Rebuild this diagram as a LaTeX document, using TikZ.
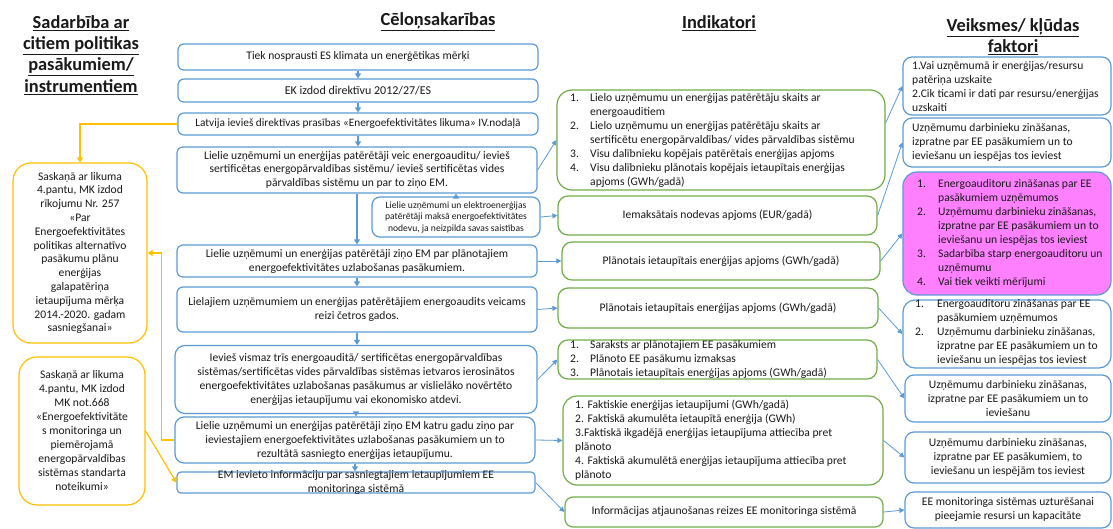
\documentclass[tikz,border=0pt]{standalone}
\usepackage{fontspec}
\setmainfont{Carlito}
\usetikzlibrary{arrows.meta,calc}
\definecolor{cblue}{RGB}{91,155,213}
\definecolor{cgreen}{RGB}{112,173,71}
\definecolor{corange}{RGB}{255,192,0}
\definecolor{cpink}{RGB}{255,128,255}
\definecolor{ctext}{RGB}{25,25,25}
% underlined heading line with a heavier rule
\newcommand\headline[1]{\leavevmode\vtop{\hbox{#1}\kern1.4pt\hrule height 1.2pt}}
% fixed-width list number
\newcommand\numlab[2]{\makebox[#1][l]{#2}}
\begin{document}
\begin{tikzpicture}[x=1pt,y=-1pt,font=\fontsize{11.6}{14}\selectfont,text=ctext,
  cbox/.style={draw=cblue,line width=1.2pt,rounded corners=6pt,align=center,inner sep=1pt},
  gbox/.style={draw=cgreen,line width=1.2pt,rounded corners=10pt,align=center,inner sep=1pt},
  rbox/.style={draw=cblue,line width=1.2pt,rounded corners=9pt,align=center,inner sep=1pt},
  obox/.style={draw=corange,line width=1.2pt,rounded corners=18pt,align=center,inner sep=1pt},
  sz/.style 2 args={minimum width=#1pt,minimum height=#2pt},
  lefttext/.style={anchor=west,align=left,inner sep=0pt},
  head/.style={font=\bfseries\fontsize{18.4}{21.3}\selectfont,align=center,inner sep=0pt},
  arr/.style={draw=cblue,line width=1.3pt,-{Triangle[width=6pt,length=5pt]}},
  thinarr/.style={draw=cblue,line width=0.8pt,-{Triangle[width=5pt,length=5pt]}},
  oarr/.style={draw=corange,line width=1.2pt,-{Triangle[width=6pt,length=5pt]}}]
\fill[white] (0,0) rectangle (1113,529);
\useasboundingbox (0,0) rectangle (1113,529);

% column headings
\node[head] (h1) at (81,55) {\headline{Sadarbība ar}\\ \headline{citiem politikas}\\ \headline{pasākumiem/}\\ \headline{instrumentiem}};
\node[head] (h2) at (438,22) {\headline{Cēloņsakarības}};
\node[head] (h3) at (719,23) {\headline{Indikatori}};
\node[head] (h4) at (1013,37) {\headline{Veiksmes/ kļūdas}\\ \headline{faktori}};

% cause-and-effect chain
\node[cbox,sz={360}{26}] (B1) at (358,57) {Tiek nosprausti ES klimata un enerģētikas mērķi};
\node[cbox,sz={360}{23},font=\fontsize{12}{14}\selectfont] (B2) at (358,90.5) {EK izdod direktīvu 2012/27/ES};
\node[cbox,sz={360}{22},font=\fontsize{11.3}{14}\selectfont] (B3) at (358,124) {Latvija ievieš direktīvas prasības «Energoefektivitātes likuma» IV.nodaļā};
\node[cbox,sz={360}{46},font=\fontsize{11.6}{13.6}\selectfont] (B4) at (357,170) {Lielie uzņēmumi un enerģijas patērētāji veic energoauditu/ ievieš\\ sertificētas energopārvaldības sistēmu/ ievieš sertificētas vides\\ pārvaldības sistēmu un par to ziņo EM.};
\node[cbox,sz={168}{40},rounded corners=8pt,font=\fontsize{9.6}{11.5}\selectfont] (SB) at (456,217) {Lielie uzņēmumi un elektroenerģijas\\ patērētāji maksā energoefektivitātes\\ nodevu, ja neizpilda savas saistības};
\node[cbox,sz={360}{32}] (B5) at (357,261) {Lielie uzņēmumi un enerģijas patērētāji ziņo EM par plānotajiem\\ energoefektivitātes uzlabošanas pasākumiem.};
\node[cbox,sz={360}{45}] (B6) at (357,309.5) {Lielajiem uzņēmumiem un enerģijas patērētājiem energoaudits veicams\\ reizi četros gados.};
\node[cbox,sz={362}{68},rounded corners=10pt] (B7) at (356,379.5) {Ievieš vismaz trīs energoauditā/ sertificētas energopārvaldības\\ sistēmas/sertificētas vides pārvaldības sistēmas ietvaros ierosinātos\\ energoefektivitātes uzlabošanas pasākumus ar vislielāko novērtēto\\ enerģijas ietaupījumu vai ekonomisko atdevi.};
\node[cbox,sz={360}{46},rounded corners=9pt] (B8) at (355,440) {Lielie uzņēmumi un enerģijas patērētāji ziņo EM katru gadu ziņo par\\ ieviestajiem energoefektivitātes uzlabošanas pasākumiem un to\\ rezultātā sasniegto enerģijas ietaupījumu.};
\node[cbox,sz={358}{21},rounded corners=4pt] (B9) at (356,482.5) {};
\node[align=center,inner sep=0pt] (B9t) at (B9.center) {EM ievieto informāciju par sasniegtajiem ietaupījumiem EE\\ monitoringa sistēmā};

% indicators
\node[gbox,sz={328}{100},rounded corners=15pt] (G1) at (721,140) {};
\node[lefttext] (G1t) at (570,140) {\numlab{20pt}{1.}Lielo uzņēmumu un enerģijas patērētāju skaits ar\\ \hspace*{20pt}energoauditiem\\ \numlab{20pt}{2.}Lielo uzņēmumu un enerģijas patērētāju skaits ar\\ \hspace*{20pt}sertificētu energopārvaldības/ vides pārvaldības sistēmu\\ \numlab{20pt}{3.}Visu dalībnieku kopējais patērētais enerģijas apjoms\\ \numlab{20pt}{4.}Visu dalībnieku plānotais kopējais ietaupītais enerģijas\\ \hspace*{20pt}apjoms (GWh/gadā)};
\node[gbox,sz={319}{39}] (G2) at (717.5,215.5) {Iemaksātais nodevas apjoms (EUR/gadā)};
\node[gbox,sz={318}{38}] (G3) at (721,261) {Plānotais ietaupītais enerģijas apjoms (GWh/gadā)};
\node[gbox,sz={320}{40}] (G4) at (718,308) {Plānotais ietaupītais enerģijas apjoms (GWh/gadā)};
\node[gbox,sz={319}{39}] (G5) at (717.5,359.5) {};
\node[lefttext] (G5t) at (570,359) {\numlab{20pt}{1.}Saraksts ar plānotajiem EE pasākumiem\\ \numlab{20pt}{2.}Plānoto EE pasākumu izmaksas\\ \numlab{20pt}{3.}Plānotais ietaupītais enerģijas apjoms (GWh/gadā)};
\node[gbox,sz={320}{89},rounded corners=14pt] (G6) at (723,440.5) {};
\node[lefttext] (G6t) at (575,440.5) {1. Faktiskie enerģijas ietaupījumi (GWh/gadā)\\ 2. Faktiskā akumulēta ietaupītā enerģija (GWh)\\ 3.Faktiskā ikgadējā enerģijas ietaupījuma attiecība pret\\ plānoto\\ 4. Faktiskā akumulētā enerģijas ietaupījuma attiecība pret\\ plānoto};
\node[gbox,sz={318}{30},rounded corners=8pt] (G7) at (724,512) {Informācijas atjaunošanas reizes EE monitoringa sistēmā};

% success / failure factors
\node[rbox,sz={208}{58}] (R1) at (1007,86) {};
\node[lefttext] (R1t) at (912,87) {1.Vai uzņēmumā ir enerģijas/resursu\\ patēriņa uzskaite\\ 2.Cik ticami ir dati par resursu/enerģijas\\ uzskaiti};
\node[rbox,sz={208}{49}] (R2) at (1007,142.5) {};
\node[lefttext] (R2t) at (912,142.5) {Uzņēmumu darbinieku zināšanas,\\ izpratne par EE pasākumiem un to\\ ieviešanu un iespējas tos ieviest};
\node[rbox,sz={208}{123},fill=cpink,rounded corners=14pt] (R3) at (1007,233.5) {};
\node[lefttext] (R3t) at (917,233.5) {\numlab{21pt}{1.}Energoauditoru zināšanas par EE\\ \hspace*{21pt}pasākumiem uzņēmumos\\ \numlab{21pt}{2.}Uzņēmumu darbinieku zināšanas,\\ \hspace*{21pt}izpratne par EE pasākumiem un to\\ \hspace*{21pt}ieviešanu un iespējas tos ieviest\\ \numlab{21pt}{3.}Sadarbība starp energoauditoru un\\ \hspace*{21pt}uzņēmumu\\ \numlab{21pt}{4.}Vai tiek veikti mērījumi};
\node[rbox,sz={208}{68},rounded corners=12pt] (R4) at (1007,334) {};
\node[lefttext] (R4t) at (915,332.5) {\numlab{22pt}{1.}Energoauditoru zināšanas par EE\\ \hspace*{22pt}pasākumiem uzņēmumos\\ \numlab{22pt}{2.}Uzņēmumu darbinieku zināšanas,\\ \hspace*{22pt}izpratne par EE pasākumiem un to\\ \hspace*{22pt}ieviešanu un iespējas tos ieviest};
\node[rbox,sz={206}{47}] (R5) at (1008,398.5) {Uzņēmumu darbinieku zināšanas,\\ izpratne par EE pasākumiem un to\\ ieviešanu};
\node[rbox,sz={206}{51}] (R6) at (1008,457.5) {Uzņēmumu darbinieku zināšanas,\\ izpratne par EE pasākumiem, to\\ ieviešanu un iespējām tos ieviest};
\node[rbox,sz={206}{36}] (R7) at (1008,510) {EE monitoringa sistēmas uzturēšanai\\ pieejamie resursi un kapacitāte};

% related policy instruments
\node[obox,sz={134}{180},font=\fontsize{11.6}{13.8}\selectfont] (O1) at (80,253) {Saskaņā ar likuma\\ 4.pantu, MK izdod\\ rīkojumu Nr. 257\\ «Par\\ Energoefektivitātes\\ politikas alternatīvo\\ pasākumu plānu\\ enerģijas\\ galapatēriņa\\ ietaupījuma mērķa\\ 2014.-2020. gadam\\ sasniegšanai»};
\node[obox,sz={126}{148}] (O2) at (82,431) {Saskaņā ar likuma\\ 4.pantu, MK izdod\\ MK not.668\\ «Energoefektivitāte\\ s monitoringa un\\ piemērojamā\\ energopārvaldības\\ sistēmas standarta\\ noteikumi»};

% main chain arrows
\draw[arr] (B1.south) -- (B1.south |- B2.north);
\draw[arr] (B2.south) -- (B2.south |- B3.north);
\draw[arr] (B3.south) -- (B3.south |- B4.north);
\draw[arr] (B4.south) -- (B4.south |- B5.north);
\draw[arr] (SB.north) -- (SB.north |- B4.south);
\draw[arr] (B5.south) -- (B5.south |- B6.north);
\draw[arr] (B6.south) -- (B6.south |- B7.north);
\draw[arr] (B7.south) -- (B7.south |- B8.north);
\draw[arr] (B8.south) -- (B8.south |- B9.north);

% chain to indicators
\draw[thinarr] (B4.east) -- (G1.west);
\draw[thinarr] (SB.east) -- (G2.west);
\draw[thinarr] (B5.east) -- (G3.west);
\draw[thinarr] (B6.east) -- (G4.west);
\draw[thinarr] (B7.east) -- (G5.west);
\draw[thinarr] (B8.east) -- (G6.west);
\draw[thinarr] (B9.east) -- (G7.west);

% indicators to factors
\draw[thinarr] ($(G1.east)+(0,-17)$) -- (R1.west);
\draw[thinarr] (G2.east) -- (R2.west);
\draw[thinarr] (G3.east) -- (R3.west);
\draw[thinarr] (G4.east) -- (R4.west);
\draw[thinarr] (G5.east) -- (R5.west);
\draw[thinarr] (G6.east) -- (R6.west);
\draw[thinarr] (G7.east) -- (R7.west);

% links to the policy instruments
\draw[oarr] (B3.west) -| (O1.north);
\draw[oarr] (B8.west) -- ++(-13,0) |- (O1.east);
\draw[oarr] (O2.east) -- (B9.west);
\end{tikzpicture}
\end{document}
